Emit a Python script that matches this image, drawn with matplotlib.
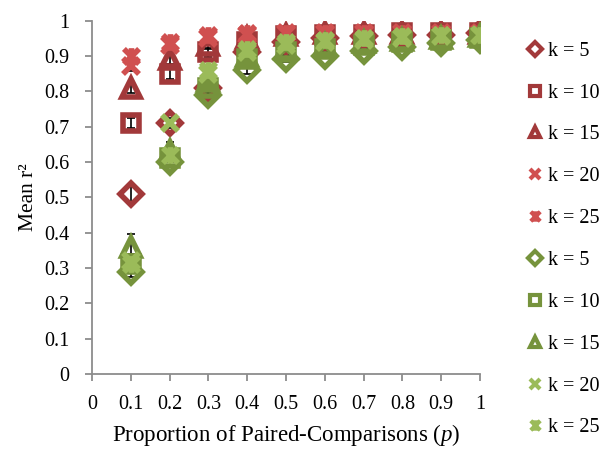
import numpy as np
import matplotlib
matplotlib.use("Agg")
import matplotlib.pyplot as plt
from matplotlib.path import Path

# ---- data ----
p = [0.1, 0.2, 0.3, 0.4, 0.5, 0.6, 0.7, 0.8, 0.9, 1.0]
labels = ["k = 5", "k = 10", "k = 15", "k = 20", "k = 25"]

red_k5 = [0.51, 0.71, 0.81, 0.91, 0.94, 0.95, 0.955, 0.96, 0.96, 0.965]
red_k10 = [0.71, 0.85, 0.91, 0.94, 0.955, 0.96, 0.96, 0.965, 0.965, 0.965]
red_k15 = [0.81, 0.89, 0.93, 0.95, 0.96, 0.965, 0.965, 0.965, 0.965, 0.965]
red_k20 = [0.87, 0.93, 0.95, 0.96, 0.965, 0.965, 0.965, 0.965, 0.965, 0.965]
red_k25 = [0.90, 0.94, 0.96, 0.965, 0.965, 0.965, 0.965, 0.965, 0.965, 0.965]

green_k5 = [0.29, 0.60, 0.79, 0.86, 0.89, 0.90, 0.915, 0.925, 0.935, 0.945]
green_k10 = [0.31, 0.61, 0.81, 0.89, 0.91, 0.92, 0.93, 0.94, 0.945, 0.95]
green_k15 = [0.36, 0.63, 0.83, 0.90, 0.92, 0.93, 0.94, 0.945, 0.95, 0.955]
green_k20 = [0.32, 0.71, 0.85, 0.91, 0.93, 0.94, 0.945, 0.95, 0.955, 0.96]
green_k25 = [0.31, 0.62, 0.86, 0.92, 0.94, 0.945, 0.95, 0.955, 0.96, 0.96]

red_err = [
    [0.025, 0.012, 0.010, 0.008, 0.006, 0.005, 0.004, 0.004, 0.003, 0.003],
    [0.015, 0.015, 0.012, 0.008, 0.006, 0.005, 0.004, 0.004, 0.003, 0.003],
    [0.015, 0.012, 0.010, 0.008, 0.006, 0.005, 0.004, 0.004, 0.003, 0.003],
    [0.012, 0.010, 0.008, 0.006, 0.005, 0.004, 0.004, 0.003, 0.003, 0.003],
    [0.012, 0.010, 0.008, 0.006, 0.005, 0.004, 0.004, 0.003, 0.003, 0.003],
]
green_err = [
    [0.015, 0.015, 0.015, 0.012, 0.008, 0.006, 0.005, 0.004, 0.004, 0.003],
    [0.02, 0.02, 0.015, 0.010, 0.008, 0.006, 0.005, 0.004, 0.004, 0.003],
    [0.035, 0.025, 0.015, 0.010, 0.008, 0.006, 0.005, 0.004, 0.004, 0.003],
    [0.02, 0.015, 0.012, 0.010, 0.008, 0.006, 0.005, 0.004, 0.004, 0.003],
    [0.02, 0.02, 0.012, 0.010, 0.008, 0.006, 0.005, 0.004, 0.004, 0.003],
]

red_series = [red_k5, red_k10, red_k15, red_k20, red_k25]
green_series = [green_k5, green_k10, green_k15, green_k20, green_k25]

# ---- style ----
plt.rcParams["font.family"] = ["Liberation Serif", "DejaVu Serif"]
plt.rcParams["mathtext.fontset"] = "custom"
plt.rcParams["mathtext.it"] = "Liberation Serif:italic"
plt.rcParams["mathtext.rm"] = "Liberation Serif"

# x with a vertical bar (Excel "star")
star = Path(
    [(-1, -1), (1, 1), (-1, 1), (1, -1), (0, -1.1), (0, 1.1)],
    [Path.MOVETO, Path.LINETO, Path.MOVETO, Path.LINETO, Path.MOVETO, Path.LINETO],
)
markers = ["D", "s", "^", "x", star]
sizes = [11, 12, 13, 12, 12]

red_dark, red_light = "#A2393A", "#D05050"
green_dark, green_light = "#76933C", "#9BBB59"
red_cols = [red_dark, red_dark, red_dark, red_light, red_light]
green_cols = [green_dark, green_dark, green_dark, green_light, green_light]

fig = plt.figure(figsize=(6.13, 4.51), dpi=100)
ax = fig.add_axes([0.150, 0.1707, 0.633, 0.7838])

handles = []
z = 2
for series, errs, cols in [(red_series, red_err, red_cols), (green_series, green_err, green_cols)]:
    for vals, err, m, ms, c, lab in zip(series, errs, markers, sizes, cols, labels):
        h, = ax.plot(p, vals, ls="none", marker=m, ms=ms, mec=c, mfc="none",
                     mew=4, label=lab, zorder=z)
        ax.errorbar(p, vals, yerr=err, fmt="none", ecolor="black", elinewidth=1.2,
                    capsize=3, capthick=1.2, zorder=1)
        handles.append(h)
        z += 1

ax.set_xlim(0, 1)
ax.set_ylim(0, 1)
ax.set_xticks(np.arange(0, 1.01, 0.1))
ax.set_yticks(np.arange(0, 1.01, 0.1))
ax.set_xticklabels(["0"] + [f"{v:.1f}" for v in np.arange(0.1, 0.95, 0.1)] + ["1"])
ax.set_yticklabels(["0"] + [f"{v:.1f}" for v in np.arange(0.1, 0.95, 0.1)] + ["1"])
for s in ["top", "right"]:
    ax.spines[s].set_visible(False)
for s in ["left", "bottom"]:
    ax.spines[s].set_color("#8C8C8C")
    ax.spines[s].set_linewidth(1.3)
ax.tick_params(direction="out", length=5, width=1.3, color="#8C8C8C",
               labelsize=14.5, labelcolor="black")
ax.tick_params(axis="x", pad=10)
ax.tick_params(axis="y", pad=11)
for lbl in ax.get_xticklabels() + ax.get_yticklabels():
    lbl.set_clip_on(False)

ax.set_xlabel("Proportion of Paired-Comparisons ($\\mathit{p}$)", fontsize=16.5, labelpad=6)
ax.set_ylabel("Mean r²", fontsize=15.5, labelpad=5)

leg_handles = []
for h in handles:
    lh, = ax.plot([], [], ls="none", marker=h.get_marker(), ms=7.5, mec=h.get_mec(),
                  mfc="white", mew=3)
    leg_handles.append(lh)
fig.legend(leg_handles, [h.get_label() for h in handles], loc="upper left",
           bbox_to_anchor=(0.845, 0.93), frameon=False, fontsize=14.5,
           handlelength=0.7, handletextpad=0.3, labelspacing=1.13, borderpad=0)

fig.savefig("out.png", dpi=100)
